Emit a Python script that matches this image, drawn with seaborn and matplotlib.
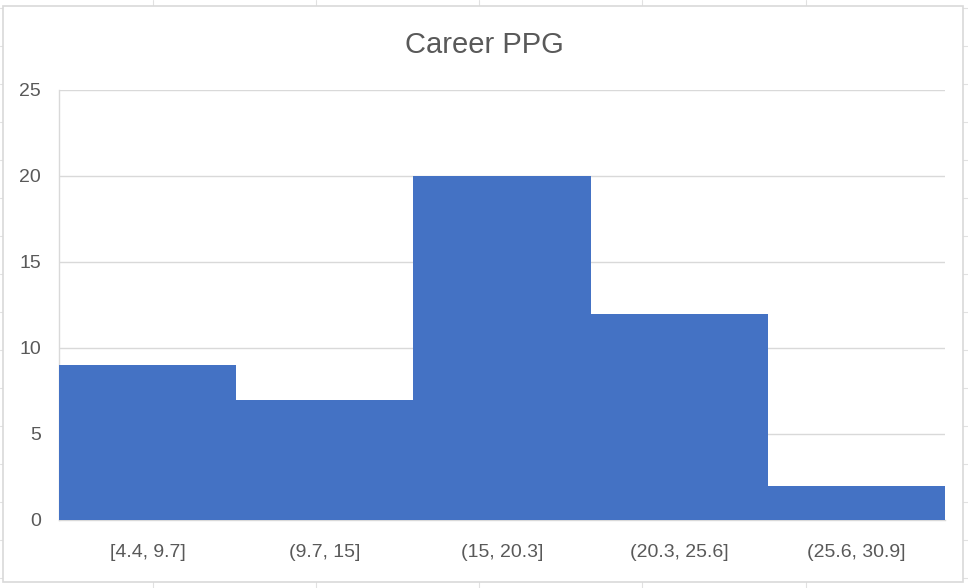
import matplotlib
matplotlib.use("Agg")
import matplotlib.pyplot as plt
import seaborn as sns
from matplotlib.lines import Line2D
from matplotlib.patches import Rectangle

# histogram bins (Career PPG) and counts
bin_edges = [4.4, 9.7, 15, 20.3, 25.6, 30.9]
counts = [9, 7, 20, 12, 2]
bin_labels = ["[4.4, 9.7]", "(9.7, 15]", "(15, 20.3]", "(20.3, 25.6]", "(25.6, 30.9]"]
y_ticks = [0, 5, 10, 15, 20, 25]

mids = [(bin_edges[i] + bin_edges[i + 1]) / 2 for i in range(len(counts))]

sns.set_theme(style="white")
plt.rcParams['font.family'] = ['Liberation Sans', 'DejaVu Sans']

fig = plt.figure(figsize=(9.68, 5.88), dpi=100)

# spreadsheet cell grid behind the chart
for x in [153, 316, 479, 642, 806]:
    fig.add_artist(Line2D([x / 968, x / 968], [0, 1], color="#e1e1e1", lw=0.8, zorder=0))
for k in range(16):
    y = 8 + 38 * k
    fig.add_artist(Line2D([0, 1], [1 - y / 588, 1 - y / 588], color="#e1e1e1", lw=0.8, zorder=0))

# chart area (white, bordered)
fig.add_artist(Rectangle((3 / 968, 1 - 582 / 588), 960 / 968, 576 / 588,
                         facecolor="white", edgecolor="#d9d9d9", lw=1.2, zorder=1))

ax = fig.add_axes([59 / 968, 1 - 520 / 588, 886 / 968, 430 / 588])
ax.set_zorder(2)
ax.patch.set_alpha(0)

sns.histplot(x=mids, weights=counts, bins=bin_edges, ax=ax,
             color="#4472C4", alpha=1, edgecolor="none", linewidth=0, zorder=3)

ax.set_xlim(bin_edges[0], bin_edges[-1])
ax.set_ylim(0, 25)
ax.set_yticks(y_ticks)
ax.set_yticklabels([str(t) for t in y_ticks])
ax.set_xticks(mids)
ax.set_xticklabels(bin_labels)
ax.tick_params(axis="both", length=0, labelsize=14, colors="#595959")
ax.tick_params(axis="x", pad=17)
ax.tick_params(axis="y", pad=13)
ax.set_xlabel("")
ax.set_ylabel("")

ax.grid(axis="y", color="#d9d9d9", lw=1)
ax.set_axisbelow(True)
for s in ["top", "right"]:
    ax.spines[s].set_visible(False)
ax.spines["left"].set_color("#d9d9d9")
ax.spines["bottom"].set_color("#d9d9d9")
ax.spines["left"].set_linewidth(1)
ax.spines["bottom"].set_linewidth(1)

fig.text(0.5, 1 - 45 / 588, "Career PPG", ha="center", va="center",
         fontsize=21, color="#595959", zorder=4)

fig.savefig("out.png", dpi=100)
